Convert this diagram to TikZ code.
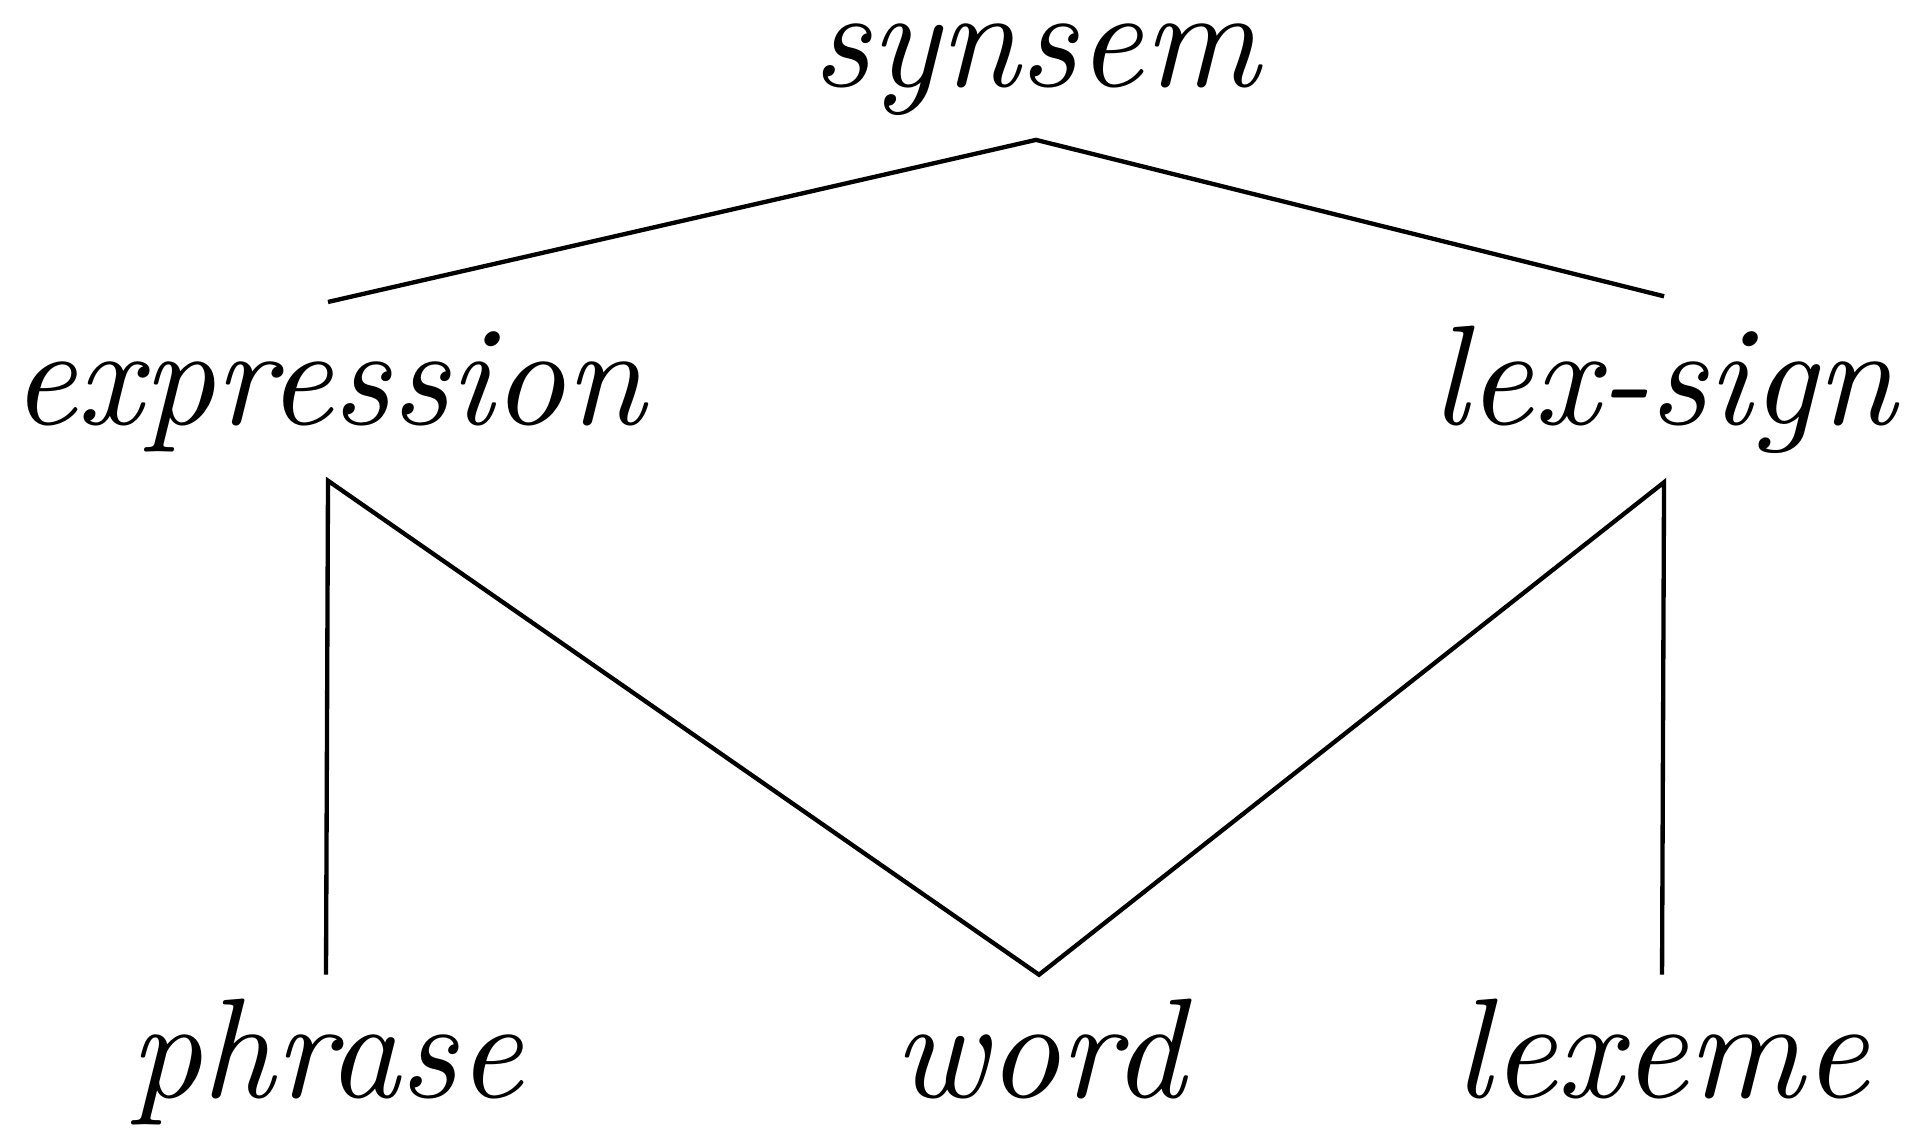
\documentclass[tikz,border=0pt]{standalone}
\usepackage{tikz}
\usetikzlibrary{positioning}

\begin{document}
\begin{tikzpicture}[x=0.26cm, y=-0.26cm, font=\fontsize{10.5}{12}\selectfont\itshape,
    line width=0.32pt,
    type/.style={inner sep=2pt, anchor=base}]
  \useasboundingbox (0,0) rectangle (19.12,11.33);
  % type hierarchy
  \node[type, inner sep=1.6pt] (synsem) at (10.36,0.87) {synsem};
  \node[type] (expr) at (3.28,4.24) {expression};
  \node[type] (lex) at (16.64,4.24) {lex-sign};
  \node[type, inner sep=1.6pt] (phrase) at (3.26,10.97) {phrase};
  \node[type, inner sep=1.6pt] (word) at (10.39,10.97) {word};
  \node[type, inner sep=1.6pt] (lexeme) at (16.62,10.97) {lexeme};

  \draw (expr.north) -- (synsem.south) -- (lex.north);
  \draw (phrase.north) -- (expr.south) -- (word.north) -- (lex.south) -- (lexeme.north);
\end{tikzpicture}
\end{document}
